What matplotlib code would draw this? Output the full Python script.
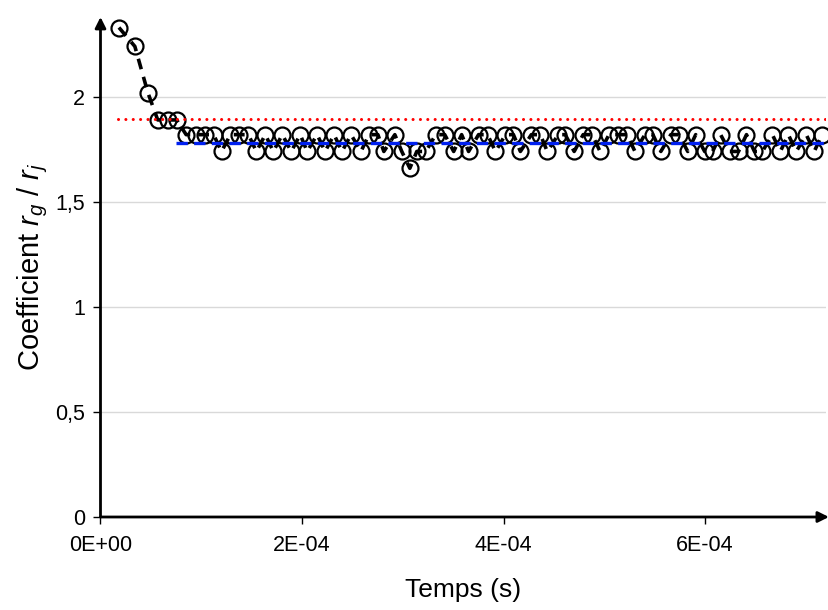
import matplotlib
matplotlib.use("Agg")
import matplotlib.pyplot as plt
from matplotlib.ticker import FixedLocator

plt.rcParams['font.family'] = ['Liberation Sans', 'DejaVu Sans']
plt.rcParams['mathtext.fontset'] = 'custom'
plt.rcParams['mathtext.rm'] = 'Liberation Sans'
plt.rcParams['mathtext.it'] = 'Liberation Sans:italic'

# time in microseconds
time_us = [18.3, 34.1, 47.0, 56.8, 66.7, 75.6, 85.0, 94.4, 103.4, 112.2,
           120.1, 129.0, 137.9, 146.8, 154.7, 163.6, 171.5, 180.4, 189.3, 198.2,
           205.1, 215.0, 222.9, 231.8, 239.7, 248.6, 258.5, 266.4, 275.3, 281.2,
           292.1, 299.0, 307.0, 313.9, 322.8, 332.7, 341.6, 350.5, 358.4, 365.3,
           375.2, 384.1, 392.0, 401.9, 409.8, 416.7, 427.6, 436.5, 443.4, 454.3,
           461.2, 470.1, 479.0, 487.9, 495.8, 504.7, 513.6, 522.5, 530.4, 540.3,
           548.2, 556.1, 566.0, 573.9, 582.8, 590.7, 599.6, 607.5, 615.4, 624.3,
           633.2, 641.1, 649.0, 656.9, 666.8, 674.7, 682.6, 690.5, 700.4, 708.3,
           716.2]
coef = [2.33, 2.24, 2.02, 1.89, 1.89, 1.89, 1.82, 1.82, 1.82, 1.82,
        1.74, 1.82, 1.82, 1.82, 1.74, 1.82, 1.74, 1.82, 1.74, 1.82,
        1.74, 1.82, 1.74, 1.82, 1.74, 1.82, 1.74, 1.82, 1.82, 1.74,
        1.82, 1.74, 1.66, 1.74, 1.74, 1.82, 1.82, 1.74, 1.82, 1.74,
        1.82, 1.82, 1.74, 1.82, 1.82, 1.74, 1.82, 1.82, 1.74, 1.82,
        1.82, 1.74, 1.82, 1.82, 1.74, 1.82, 1.82, 1.82, 1.74, 1.82,
        1.82, 1.74, 1.82, 1.82, 1.74, 1.82, 1.74, 1.74, 1.82, 1.74,
        1.74, 1.82, 1.74, 1.74, 1.82, 1.74, 1.82, 1.74, 1.82, 1.74,
        1.82]

red_level = 1.895
red_start_us = 17.3
blue_level = 1.781
blue_start_us = 74.6

x_ticks = [0, 2e-4, 4e-4, 6e-4]
x_tick_labels = ["0E+00", "2E-04", "4E-04", "6E-04"]
y_ticks = [0, 0.5, 1, 1.5, 2]
y_tick_labels = ["0", "0,5", "1", "1,5", "2"]

t = [v * 1e-6 for v in time_us]
xmax = 7.2e-4
ymax = 2.38

fig = plt.figure(figsize=(8.29, 6.10), dpi=100)
ax = fig.add_axes([100.5 / 829, 93 / 610, (826 - 100.5) / 829, (517 - 17) / 610])

ax.set_xlim(0, xmax)
ax.set_ylim(0, ymax)

for y in y_ticks[1:]:
    ax.axhline(y, color='#d9d9d9', lw=1.0, zorder=0)

ax.plot(t, coef, color='black', lw=2.6, dashes=(3.0, 2.2), marker='o',
        markersize=11.5, markerfacecolor='none', markeredgecolor='black',
        markeredgewidth=1.6, zorder=3, clip_on=False)

ax.plot([red_start_us * 1e-6, xmax], [red_level, red_level], color='#ff0000',
        lw=2.2, dashes=(0.01, 2.4), dash_capstyle='round', zorder=4)
ax.plot([blue_start_us * 1e-6, xmax], [blue_level, blue_level], color='#0020f0',
        lw=2.4, dashes=(3.4, 1.9), zorder=4)

for s in ax.spines.values():
    s.set_visible(False)

ax.annotate('', xy=(1.004, 0), xytext=(0, 0), xycoords='axes fraction',
            arrowprops=dict(arrowstyle='-|>', color='black', lw=2.0,
                            mutation_scale=16, shrinkA=0, shrinkB=0), zorder=5)
ax.annotate('', xy=(0, 1.0), xytext=(0, 0), xycoords='axes fraction',
            arrowprops=dict(arrowstyle='-|>', color='black', lw=2.0,
                            mutation_scale=16, shrinkA=0, shrinkB=0), zorder=5)

ax.xaxis.set_major_locator(FixedLocator(x_ticks))
ax.set_xticklabels(x_tick_labels)
ax.yaxis.set_major_locator(FixedLocator(y_ticks))
ax.set_yticklabels(y_tick_labels)
ax.tick_params(axis='both', direction='out', length=5, width=1.0, color='black',
               labelsize=15.5, pad=6)
ax.tick_params(axis='x', pad=8)

ax.set_xlabel('Temps (s)', fontsize=19, labelpad=16)
ax.set_ylabel('Coefficient $r_g$ / $r_j$', fontsize=21, labelpad=4)

fig.savefig('out.png', dpi=100)
